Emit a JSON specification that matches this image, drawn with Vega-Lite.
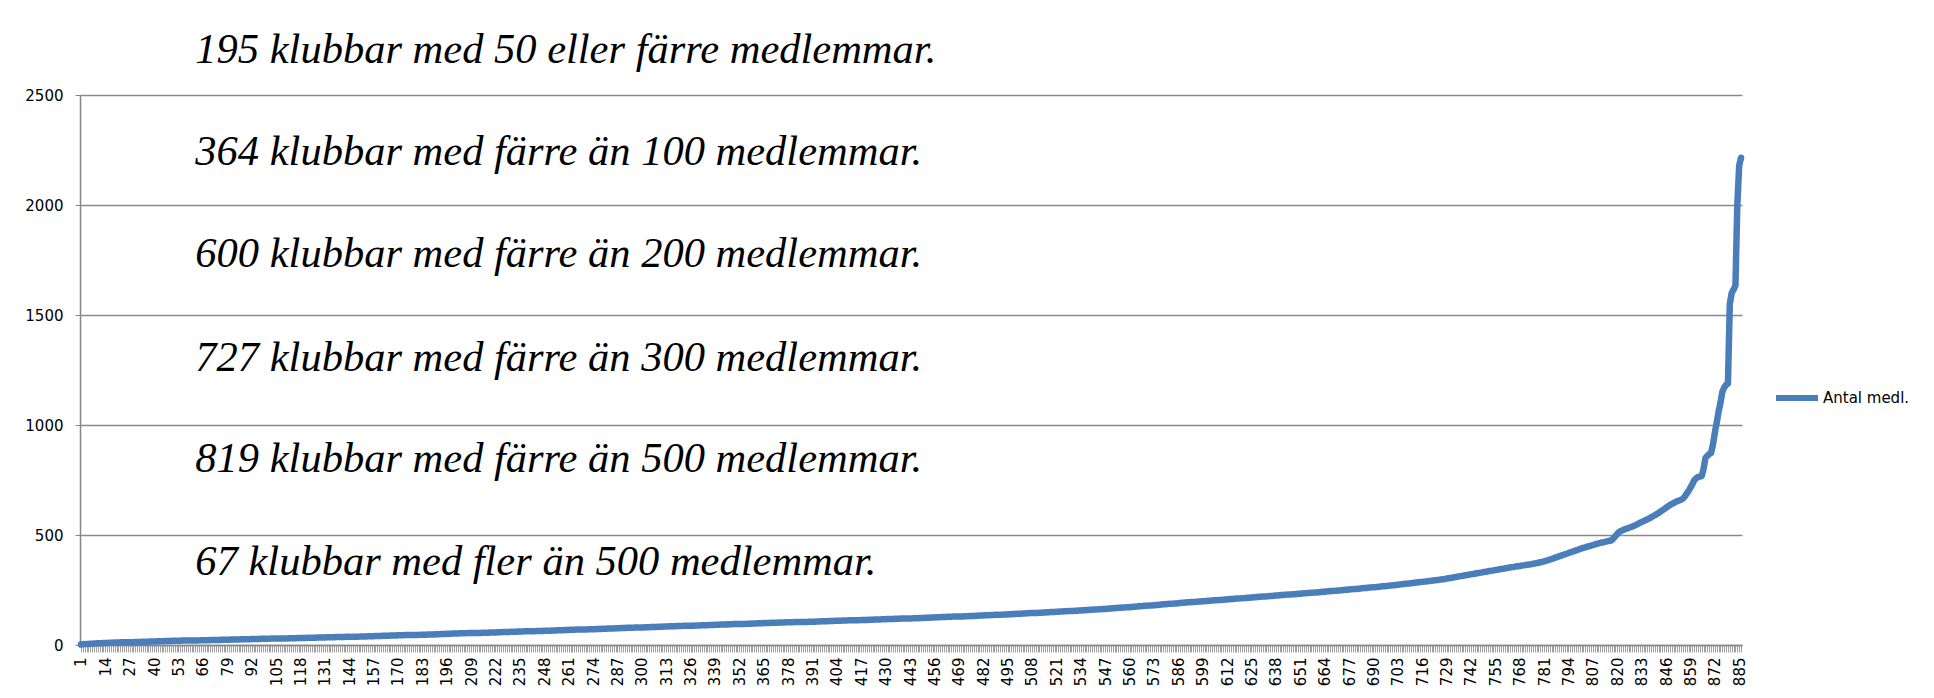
{
"$schema": "https://vega.github.io/schema/vega-lite/v6.json",
"autosize": {"type": "none"},
"padding": {"left": 80, "top": 95, "right": 192, "bottom": 53},
"width": 1662,
"height": 550,
"background": "white",
"config": {"view": {"stroke": null}, "font": "DejaVu Sans"},
"datasets": {
"klubbar": [
{"i":1,"v":2},{"i":2,"v":3},{"i":3,"v":4},{"i":4,"v":5},{"i":5,"v":5},{"i":6,"v":6},{"i":7,"v":6},{"i":8,"v":7},{"i":9,"v":7},{"i":10,"v":8},
{"i":11,"v":8},{"i":12,"v":8},{"i":13,"v":9},{"i":14,"v":9},{"i":15,"v":9},{"i":16,"v":10},{"i":17,"v":10},{"i":18,"v":10},{"i":19,"v":11},{"i":20,"v":11},
{"i":21,"v":11},{"i":22,"v":12},{"i":23,"v":12},{"i":24,"v":12},{"i":25,"v":12},{"i":26,"v":13},{"i":27,"v":13},{"i":28,"v":13},{"i":29,"v":13},{"i":30,"v":14},
{"i":31,"v":14},{"i":32,"v":14},{"i":33,"v":14},{"i":34,"v":15},{"i":35,"v":15},{"i":36,"v":15},{"i":37,"v":15},{"i":38,"v":16},{"i":39,"v":16},{"i":40,"v":16},
{"i":41,"v":16},{"i":42,"v":17},{"i":43,"v":17},{"i":44,"v":17},{"i":45,"v":17},{"i":46,"v":18},{"i":47,"v":18},{"i":48,"v":18},{"i":49,"v":18},{"i":50,"v":19},
{"i":51,"v":19},{"i":52,"v":19},{"i":53,"v":19},{"i":54,"v":19},{"i":55,"v":20},{"i":56,"v":20},{"i":57,"v":20},{"i":58,"v":20},{"i":59,"v":20},{"i":60,"v":21},
{"i":61,"v":21},{"i":62,"v":21},{"i":63,"v":21},{"i":64,"v":21},{"i":65,"v":22},{"i":66,"v":22},{"i":67,"v":22},{"i":68,"v":22},{"i":69,"v":22},{"i":70,"v":23},
{"i":71,"v":23},{"i":72,"v":23},{"i":73,"v":23},{"i":74,"v":23},{"i":75,"v":23},{"i":76,"v":24},{"i":77,"v":24},{"i":78,"v":24},{"i":79,"v":24},{"i":80,"v":24},
{"i":81,"v":25},{"i":82,"v":25},{"i":83,"v":25},{"i":84,"v":25},{"i":85,"v":25},{"i":86,"v":26},{"i":87,"v":26},{"i":88,"v":26},{"i":89,"v":26},{"i":90,"v":26},
{"i":91,"v":26},{"i":92,"v":27},{"i":93,"v":27},{"i":94,"v":27},{"i":95,"v":27},{"i":96,"v":27},{"i":97,"v":28},{"i":98,"v":28},{"i":99,"v":28},{"i":100,"v":28},
{"i":101,"v":28},{"i":102,"v":29},{"i":103,"v":29},{"i":104,"v":29},{"i":105,"v":29},{"i":106,"v":29},{"i":107,"v":30},{"i":108,"v":30},{"i":109,"v":30},{"i":110,"v":30},
{"i":111,"v":30},{"i":112,"v":31},{"i":113,"v":31},{"i":114,"v":31},{"i":115,"v":31},{"i":116,"v":31},{"i":117,"v":32},{"i":118,"v":32},{"i":119,"v":32},{"i":120,"v":32},
{"i":121,"v":32},{"i":122,"v":33},{"i":123,"v":33},{"i":124,"v":33},{"i":125,"v":33},{"i":126,"v":33},{"i":127,"v":34},{"i":128,"v":34},{"i":129,"v":34},{"i":130,"v":34},
{"i":131,"v":34},{"i":132,"v":35},{"i":133,"v":35},{"i":134,"v":35},{"i":135,"v":35},{"i":136,"v":35},{"i":137,"v":36},{"i":138,"v":36},{"i":139,"v":36},{"i":140,"v":36},
{"i":141,"v":36},{"i":142,"v":37},{"i":143,"v":37},{"i":144,"v":37},{"i":145,"v":37},{"i":146,"v":38},{"i":147,"v":38},{"i":148,"v":38},{"i":149,"v":38},{"i":150,"v":39},
{"i":151,"v":39},{"i":152,"v":39},{"i":153,"v":39},{"i":154,"v":40},{"i":155,"v":40},{"i":156,"v":40},{"i":157,"v":40},{"i":158,"v":41},{"i":159,"v":41},{"i":160,"v":41},
{"i":161,"v":41},{"i":162,"v":42},{"i":163,"v":42},{"i":164,"v":42},{"i":165,"v":42},{"i":166,"v":43},{"i":167,"v":43},{"i":168,"v":43},{"i":169,"v":43},{"i":170,"v":44},
{"i":171,"v":44},{"i":172,"v":44},{"i":173,"v":44},{"i":174,"v":45},{"i":175,"v":45},{"i":176,"v":45},{"i":177,"v":45},{"i":178,"v":46},{"i":179,"v":46},{"i":180,"v":46},
{"i":181,"v":46},{"i":182,"v":47},{"i":183,"v":47},{"i":184,"v":47},{"i":185,"v":47},{"i":186,"v":48},{"i":187,"v":48},{"i":188,"v":48},{"i":189,"v":48},{"i":190,"v":49},
{"i":191,"v":49},{"i":192,"v":49},{"i":193,"v":50},{"i":194,"v":50},{"i":195,"v":50},{"i":196,"v":51},{"i":197,"v":51},{"i":198,"v":51},{"i":199,"v":52},{"i":200,"v":52},
{"i":201,"v":52},{"i":202,"v":52},{"i":203,"v":53},{"i":204,"v":53},{"i":205,"v":53},{"i":206,"v":53},{"i":207,"v":54},{"i":208,"v":54},{"i":209,"v":54},{"i":210,"v":54},
{"i":211,"v":55},{"i":212,"v":55},{"i":213,"v":55},{"i":214,"v":55},{"i":215,"v":56},{"i":216,"v":56},{"i":217,"v":56},{"i":218,"v":56},{"i":219,"v":57},{"i":220,"v":57},
{"i":221,"v":57},{"i":222,"v":57},{"i":223,"v":58},{"i":224,"v":58},{"i":225,"v":58},{"i":226,"v":59},{"i":227,"v":59},{"i":228,"v":59},{"i":229,"v":59},{"i":230,"v":60},
{"i":231,"v":60},{"i":232,"v":60},{"i":233,"v":60},{"i":234,"v":61},{"i":235,"v":61},{"i":236,"v":61},{"i":237,"v":62},{"i":238,"v":62},{"i":239,"v":62},{"i":240,"v":62},
{"i":241,"v":63},{"i":242,"v":63},{"i":243,"v":63},{"i":244,"v":64},{"i":245,"v":64},{"i":246,"v":64},{"i":247,"v":64},{"i":248,"v":65},{"i":249,"v":65},{"i":250,"v":65},
{"i":251,"v":65},{"i":252,"v":66},{"i":253,"v":66},{"i":254,"v":66},{"i":255,"v":67},{"i":256,"v":67},{"i":257,"v":67},{"i":258,"v":67},{"i":259,"v":68},{"i":260,"v":68},
{"i":261,"v":68},{"i":262,"v":69},{"i":263,"v":69},{"i":264,"v":69},{"i":265,"v":70},{"i":266,"v":70},{"i":267,"v":70},{"i":268,"v":70},{"i":269,"v":71},{"i":270,"v":71},
{"i":271,"v":71},{"i":272,"v":72},{"i":273,"v":72},{"i":274,"v":72},{"i":275,"v":72},{"i":276,"v":73},{"i":277,"v":73},{"i":278,"v":73},{"i":279,"v":74},{"i":280,"v":74},
{"i":281,"v":74},{"i":282,"v":75},{"i":283,"v":75},{"i":284,"v":75},{"i":285,"v":75},{"i":286,"v":76},{"i":287,"v":76},{"i":288,"v":76},{"i":289,"v":77},{"i":290,"v":77},
{"i":291,"v":77},{"i":292,"v":78},{"i":293,"v":78},{"i":294,"v":78},{"i":295,"v":78},{"i":296,"v":79},{"i":297,"v":79},{"i":298,"v":79},{"i":299,"v":80},{"i":300,"v":80},
{"i":301,"v":80},{"i":302,"v":81},{"i":303,"v":81},{"i":304,"v":81},{"i":305,"v":82},{"i":306,"v":82},{"i":307,"v":82},{"i":308,"v":82},{"i":309,"v":83},{"i":310,"v":83},
{"i":311,"v":83},{"i":312,"v":84},{"i":313,"v":84},{"i":314,"v":84},{"i":315,"v":85},{"i":316,"v":85},{"i":317,"v":85},{"i":318,"v":85},{"i":319,"v":86},{"i":320,"v":86},
{"i":321,"v":86},{"i":322,"v":87},{"i":323,"v":87},{"i":324,"v":87},{"i":325,"v":88},{"i":326,"v":88},{"i":327,"v":88},{"i":328,"v":88},{"i":329,"v":89},{"i":330,"v":89},
{"i":331,"v":89},{"i":332,"v":90},{"i":333,"v":90},{"i":334,"v":90},{"i":335,"v":90},{"i":336,"v":91},{"i":337,"v":91},{"i":338,"v":91},{"i":339,"v":92},{"i":340,"v":92},
{"i":341,"v":92},{"i":342,"v":93},{"i":343,"v":93},{"i":344,"v":93},{"i":345,"v":93},{"i":346,"v":94},{"i":347,"v":94},{"i":348,"v":94},{"i":349,"v":95},{"i":350,"v":95},
{"i":351,"v":95},{"i":352,"v":96},{"i":353,"v":96},{"i":354,"v":96},{"i":355,"v":96},{"i":356,"v":97},{"i":357,"v":97},{"i":358,"v":97},{"i":359,"v":98},{"i":360,"v":98},
{"i":361,"v":98},{"i":362,"v":99},{"i":363,"v":99},{"i":364,"v":99},{"i":365,"v":100},{"i":366,"v":100},{"i":367,"v":100},{"i":368,"v":100},{"i":369,"v":101},{"i":370,"v":101},
{"i":371,"v":101},{"i":372,"v":101},{"i":373,"v":102},{"i":374,"v":102},{"i":375,"v":102},{"i":376,"v":102},{"i":377,"v":103},{"i":378,"v":103},{"i":379,"v":103},{"i":380,"v":103},
{"i":381,"v":104},{"i":382,"v":104},{"i":383,"v":104},{"i":384,"v":104},{"i":385,"v":105},{"i":386,"v":105},{"i":387,"v":105},{"i":388,"v":105},{"i":389,"v":106},{"i":390,"v":106},
{"i":391,"v":106},{"i":392,"v":106},{"i":393,"v":107},{"i":394,"v":107},{"i":395,"v":107},{"i":396,"v":108},{"i":397,"v":108},{"i":398,"v":108},{"i":399,"v":108},{"i":400,"v":109},
{"i":401,"v":109},{"i":402,"v":109},{"i":403,"v":110},{"i":404,"v":110},{"i":405,"v":110},{"i":406,"v":110},{"i":407,"v":111},{"i":408,"v":111},{"i":409,"v":111},{"i":410,"v":112},
{"i":411,"v":112},{"i":412,"v":112},{"i":413,"v":112},{"i":414,"v":113},{"i":415,"v":113},{"i":416,"v":113},{"i":417,"v":114},{"i":418,"v":114},{"i":419,"v":114},{"i":420,"v":114},
{"i":421,"v":115},{"i":422,"v":115},{"i":423,"v":115},{"i":424,"v":116},{"i":425,"v":116},{"i":426,"v":116},{"i":427,"v":116},{"i":428,"v":117},{"i":429,"v":117},{"i":430,"v":117},
{"i":431,"v":118},{"i":432,"v":118},{"i":433,"v":118},{"i":434,"v":118},{"i":435,"v":119},{"i":436,"v":119},{"i":437,"v":119},{"i":438,"v":120},{"i":439,"v":120},{"i":440,"v":120},
{"i":441,"v":120},{"i":442,"v":121},{"i":443,"v":121},{"i":444,"v":121},{"i":445,"v":122},{"i":446,"v":122},{"i":447,"v":122},{"i":448,"v":123},{"i":449,"v":123},{"i":450,"v":123},
{"i":451,"v":124},{"i":452,"v":124},{"i":453,"v":124},{"i":454,"v":125},{"i":455,"v":125},{"i":456,"v":125},{"i":457,"v":126},{"i":458,"v":126},{"i":459,"v":126},{"i":460,"v":127},
{"i":461,"v":127},{"i":462,"v":127},{"i":463,"v":128},{"i":464,"v":128},{"i":465,"v":128},{"i":466,"v":129},{"i":467,"v":129},{"i":468,"v":129},{"i":469,"v":130},{"i":470,"v":130},
{"i":471,"v":130},{"i":472,"v":131},{"i":473,"v":131},{"i":474,"v":131},{"i":475,"v":132},{"i":476,"v":132},{"i":477,"v":132},{"i":478,"v":133},{"i":479,"v":133},{"i":480,"v":134},
{"i":481,"v":134},{"i":482,"v":134},{"i":483,"v":135},{"i":484,"v":135},{"i":485,"v":135},{"i":486,"v":136},{"i":487,"v":136},{"i":488,"v":137},{"i":489,"v":137},{"i":490,"v":137},
{"i":491,"v":138},{"i":492,"v":138},{"i":493,"v":139},{"i":494,"v":139},{"i":495,"v":139},{"i":496,"v":140},{"i":497,"v":140},{"i":498,"v":141},{"i":499,"v":141},{"i":500,"v":142},
{"i":501,"v":142},{"i":502,"v":142},{"i":503,"v":143},{"i":504,"v":143},{"i":505,"v":144},{"i":506,"v":144},{"i":507,"v":145},{"i":508,"v":145},{"i":509,"v":145},{"i":510,"v":146},
{"i":511,"v":146},{"i":512,"v":147},{"i":513,"v":147},{"i":514,"v":148},{"i":515,"v":148},{"i":516,"v":149},{"i":517,"v":149},{"i":518,"v":150},{"i":519,"v":150},{"i":520,"v":150},
{"i":521,"v":151},{"i":522,"v":151},{"i":523,"v":152},{"i":524,"v":152},{"i":525,"v":153},{"i":526,"v":153},{"i":527,"v":154},{"i":528,"v":154},{"i":529,"v":155},{"i":530,"v":155},
{"i":531,"v":156},{"i":532,"v":156},{"i":533,"v":157},{"i":534,"v":157},{"i":535,"v":158},{"i":536,"v":158},{"i":537,"v":159},{"i":538,"v":159},{"i":539,"v":160},{"i":540,"v":160},
{"i":541,"v":161},{"i":542,"v":161},{"i":543,"v":162},{"i":544,"v":163},{"i":545,"v":163},{"i":546,"v":164},{"i":547,"v":164},{"i":548,"v":165},{"i":549,"v":166},{"i":550,"v":166},
{"i":551,"v":167},{"i":552,"v":167},{"i":553,"v":168},{"i":554,"v":169},{"i":555,"v":169},{"i":556,"v":170},{"i":557,"v":171},{"i":558,"v":171},{"i":559,"v":172},{"i":560,"v":172},
{"i":561,"v":173},{"i":562,"v":174},{"i":563,"v":174},{"i":564,"v":175},{"i":565,"v":176},{"i":566,"v":176},{"i":567,"v":177},{"i":568,"v":178},{"i":569,"v":178},{"i":570,"v":179},
{"i":571,"v":180},{"i":572,"v":180},{"i":573,"v":181},{"i":574,"v":182},{"i":575,"v":182},{"i":576,"v":183},{"i":577,"v":184},{"i":578,"v":185},{"i":579,"v":185},{"i":580,"v":186},
{"i":581,"v":187},{"i":582,"v":187},{"i":583,"v":188},{"i":584,"v":189},{"i":585,"v":189},{"i":586,"v":190},{"i":587,"v":191},{"i":588,"v":192},{"i":589,"v":192},{"i":590,"v":193},
{"i":591,"v":194},{"i":592,"v":194},{"i":593,"v":195},{"i":594,"v":196},{"i":595,"v":196},{"i":596,"v":197},{"i":597,"v":198},{"i":598,"v":198},{"i":599,"v":199},{"i":600,"v":199},
{"i":601,"v":200},{"i":602,"v":201},{"i":603,"v":201},{"i":604,"v":202},{"i":605,"v":203},{"i":606,"v":203},{"i":607,"v":204},{"i":608,"v":205},{"i":609,"v":205},{"i":610,"v":206},
{"i":611,"v":207},{"i":612,"v":207},{"i":613,"v":208},{"i":614,"v":209},{"i":615,"v":209},{"i":616,"v":210},{"i":617,"v":211},{"i":618,"v":211},{"i":619,"v":212},{"i":620,"v":213},
{"i":621,"v":213},{"i":622,"v":214},{"i":623,"v":215},{"i":624,"v":215},{"i":625,"v":216},{"i":626,"v":217},{"i":627,"v":217},{"i":628,"v":218},{"i":629,"v":219},{"i":630,"v":219},
{"i":631,"v":220},{"i":632,"v":221},{"i":633,"v":221},{"i":634,"v":222},{"i":635,"v":223},{"i":636,"v":223},{"i":637,"v":224},{"i":638,"v":225},{"i":639,"v":225},{"i":640,"v":226},
{"i":641,"v":227},{"i":642,"v":227},{"i":643,"v":228},{"i":644,"v":229},{"i":645,"v":229},{"i":646,"v":230},{"i":647,"v":231},{"i":648,"v":231},{"i":649,"v":232},{"i":650,"v":233},
{"i":651,"v":233},{"i":652,"v":234},{"i":653,"v":235},{"i":654,"v":235},{"i":655,"v":236},{"i":656,"v":237},{"i":657,"v":237},{"i":658,"v":238},{"i":659,"v":239},{"i":660,"v":239},
{"i":661,"v":240},{"i":662,"v":241},{"i":663,"v":242},{"i":664,"v":242},{"i":665,"v":243},{"i":666,"v":244},{"i":667,"v":245},{"i":668,"v":245},{"i":669,"v":246},{"i":670,"v":247},
{"i":671,"v":248},{"i":672,"v":248},{"i":673,"v":249},{"i":674,"v":250},{"i":675,"v":251},{"i":676,"v":251},{"i":677,"v":252},{"i":678,"v":253},{"i":679,"v":254},{"i":680,"v":255},
{"i":681,"v":255},{"i":682,"v":256},{"i":683,"v":257},{"i":684,"v":258},{"i":685,"v":259},{"i":686,"v":259},{"i":687,"v":260},{"i":688,"v":261},{"i":689,"v":262},{"i":690,"v":263},
{"i":691,"v":263},{"i":692,"v":264},{"i":693,"v":265},{"i":694,"v":266},{"i":695,"v":267},{"i":696,"v":267},{"i":697,"v":268},{"i":698,"v":269},{"i":699,"v":270},{"i":700,"v":271},
{"i":701,"v":272},{"i":702,"v":273},{"i":703,"v":274},{"i":704,"v":275},{"i":705,"v":276},{"i":706,"v":277},{"i":707,"v":278},{"i":708,"v":279},{"i":709,"v":280},{"i":710,"v":281},
{"i":711,"v":282},{"i":712,"v":283},{"i":713,"v":284},{"i":714,"v":285},{"i":715,"v":286},{"i":716,"v":287},{"i":717,"v":288},{"i":718,"v":289},{"i":719,"v":290},{"i":720,"v":291},
{"i":721,"v":292},{"i":722,"v":293},{"i":723,"v":294},{"i":724,"v":295},{"i":725,"v":296},{"i":726,"v":298},{"i":727,"v":299},{"i":728,"v":300},{"i":729,"v":302},{"i":730,"v":303},
{"i":731,"v":305},{"i":732,"v":306},{"i":733,"v":308},{"i":734,"v":309},{"i":735,"v":311},{"i":736,"v":312},{"i":737,"v":314},{"i":738,"v":315},{"i":739,"v":317},{"i":740,"v":318},
{"i":741,"v":320},{"i":742,"v":321},{"i":743,"v":323},{"i":744,"v":324},{"i":745,"v":326},{"i":746,"v":327},{"i":747,"v":329},{"i":748,"v":330},{"i":749,"v":332},{"i":750,"v":333},
{"i":751,"v":335},{"i":752,"v":336},{"i":753,"v":338},{"i":754,"v":339},{"i":755,"v":341},{"i":756,"v":342},{"i":757,"v":344},{"i":758,"v":345},{"i":759,"v":347},{"i":760,"v":348},
{"i":761,"v":350},{"i":762,"v":351},{"i":763,"v":353},{"i":764,"v":354},{"i":765,"v":355},{"i":766,"v":357},{"i":767,"v":358},{"i":768,"v":359},{"i":769,"v":361},{"i":770,"v":362},
{"i":771,"v":363},{"i":772,"v":365},{"i":773,"v":366},{"i":774,"v":367},{"i":775,"v":369},{"i":776,"v":370},{"i":777,"v":372},{"i":778,"v":374},{"i":779,"v":376},{"i":780,"v":378},
{"i":781,"v":380},{"i":782,"v":383},{"i":783,"v":385},{"i":784,"v":388},{"i":785,"v":391},{"i":786,"v":394},{"i":787,"v":397},{"i":788,"v":400},{"i":789,"v":403},{"i":790,"v":406},
{"i":791,"v":409},{"i":792,"v":412},{"i":793,"v":415},{"i":794,"v":418},{"i":795,"v":421},{"i":796,"v":424},{"i":797,"v":427},{"i":798,"v":430},{"i":799,"v":433},{"i":800,"v":436},
{"i":801,"v":439},{"i":802,"v":442},{"i":803,"v":444},{"i":804,"v":447},{"i":805,"v":449},{"i":806,"v":452},{"i":807,"v":454},{"i":808,"v":457},{"i":809,"v":459},{"i":810,"v":462},
{"i":811,"v":464},{"i":812,"v":466},{"i":813,"v":468},{"i":814,"v":470},{"i":815,"v":472},{"i":816,"v":474},{"i":817,"v":476},{"i":818,"v":485},{"i":819,"v":495},{"i":820,"v":505},
{"i":821,"v":514},{"i":822,"v":518},{"i":823,"v":522},{"i":824,"v":526},{"i":825,"v":529},{"i":826,"v":532},{"i":827,"v":535},{"i":828,"v":538},{"i":829,"v":542},{"i":830,"v":546},
{"i":831,"v":550},{"i":832,"v":555},{"i":833,"v":559},{"i":834,"v":563},{"i":835,"v":567},{"i":836,"v":571},{"i":837,"v":575},{"i":838,"v":580},{"i":839,"v":585},{"i":840,"v":590},
{"i":841,"v":595},{"i":842,"v":600},{"i":843,"v":606},{"i":844,"v":612},{"i":845,"v":618},{"i":846,"v":624},{"i":847,"v":630},{"i":848,"v":636},{"i":849,"v":641},{"i":850,"v":645},
{"i":851,"v":650},{"i":852,"v":654},{"i":853,"v":657},{"i":854,"v":660},{"i":855,"v":665},{"i":856,"v":675},{"i":857,"v":688},{"i":858,"v":700},{"i":859,"v":715},{"i":860,"v":730},
{"i":861,"v":748},{"i":862,"v":758},{"i":863,"v":763},{"i":864,"v":766},{"i":865,"v":768},{"i":866,"v":800},{"i":867,"v":850},{"i":868,"v":860},{"i":869,"v":868},{"i":870,"v":873},
{"i":871,"v":910},{"i":872,"v":964},{"i":873,"v":1010},{"i":874,"v":1060},{"i":875,"v":1100},{"i":876,"v":1150},{"i":877,"v":1170},{"i":878,"v":1182},{"i":879,"v":1188},{"i":880,"v":1550},
{"i":881,"v":1600},{"i":882,"v":1615},{"i":883,"v":1635},{"i":884,"v":2000},{"i":885,"v":2180},{"i":886,"v":2215}
],
"texter": [
{"i":62,"y":2645,"t":"195 klubbar med 50 eller färre medlemmar."},
{"i":62,"y":2182,"t":"364 klubbar med färre än 100 medlemmar."},
{"i":62,"y":1718,"t":"600 klubbar med färre än 200 medlemmar."},
{"i":62,"y":1245,"t":"727 klubbar med färre än 300 medlemmar."},
{"i":62,"y":786,"t":"819 klubbar med färre än 500 medlemmar."},
{"i":62,"y":318,"t":"67 klubbar med fler än 500 medlemmar."}
]
},
"layer": [
{
"data": {"name": "klubbar"},
"mark": {"type": "line", "strokeWidth": 6.5, "strokeCap": "round", "strokeJoin": "round"},
"encoding": {
"x": {"field": "i", "type": "ordinal", "sort": "ascending", "scale": {"type": "point", "padding": 0.5},
"axis": {"title": null, "labelExpr": "(datum.value - 1) % 13 === 0 ? datum.label : ''", "labelAngle": 270, "labelFontSize": 15, "labelFont": "DejaVu Sans", "labelColor": "black", "labelOverlap": false, "labelBound": false, "labelFlush": false, "labelPadding": 5, "tickColor": "#a0a0a0", "tickSize": 7, "tickWidth": 1, "domainColor": "#868686", "domainWidth": 1.5, "grid": false}},
"y": {"field": "v", "type": "quantitative", "scale": {"domain": [0, 2500], "nice": false},
"axis": {"title": null, "values": [0, 500, 1000, 1500, 2000, 2500], "format": "d", "grid": true, "gridColor": "#8a8a8a", "gridWidth": 1.5, "domainColor": "#868686", "domainWidth": 1.5, "tickColor": "#868686", "tickSize": 5, "labelFontSize": 15, "labelFont": "DejaVu Sans", "labelColor": "black", "labelPadding": 12}},
"color": {"datum": "Antal medl.", "type": "nominal", "scale": {"range": ["#4a7ebb"]},
"legend": {"title": null, "orient": "none", "legendX": 1693, "legendY": 279, "symbolType": "stroke", "symbolSize": 1764, "symbolStrokeWidth": 6, "labelFontSize": 15, "labelFont": "DejaVu Sans", "labelColor": "black", "labelOffset": 2}}
}
},
{
"data": {"name": "texter"},
"mark": {"type": "text", "font": "Liberation Serif", "fontStyle": "italic", "fontSize": 42.5, "align": "left", "baseline": "alphabetic", "color": "black"},
"encoding": {
"x": {"field": "i", "type": "ordinal"},
"y": {"field": "y", "type": "quantitative"},
"text": {"field": "t"}
}
}
]
}
